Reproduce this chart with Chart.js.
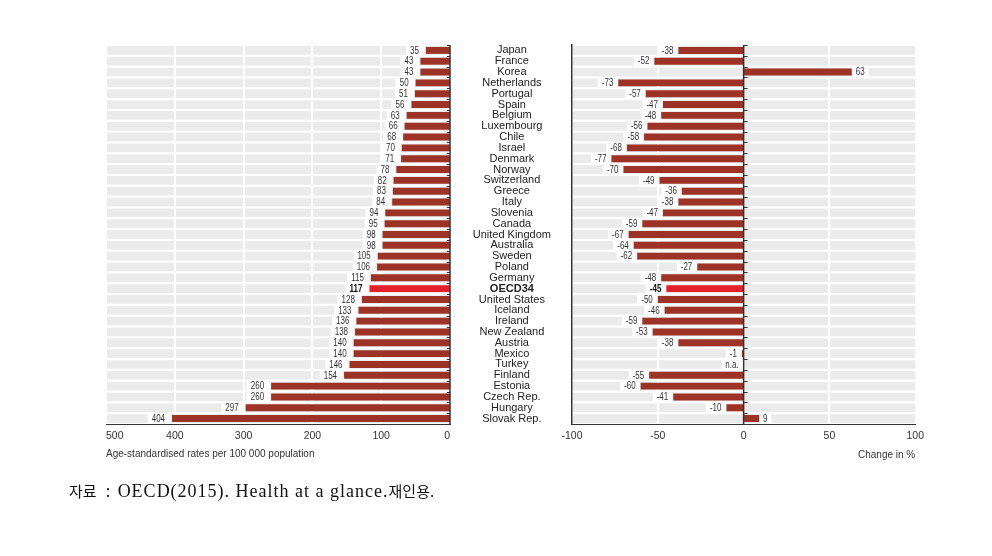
<!DOCTYPE html>
<html>
<head>
<meta charset="utf-8">
<script src="https://cdn.jsdelivr.net/npm/chart.js@4.4.0/dist/chart.umd.min.js"></script>
<style>
  body { margin: 0; background: #fff; }
  #wrap { position: relative; width: 992px; height: 556px; }
  #rateChart { position: absolute; left: 0; top: 0; }
  #changeChart { position: absolute; left: 460px; top: 0; }
  #rateTitle {
    position: absolute; left: 106px; top: 448px;
    font: 10px "Liberation Sans", sans-serif; color: #333; white-space: nowrap;
  }
  #source {
    position: absolute; left: 69px; top: 480px;
    font: 18px "Liberation Serif", serif; letter-spacing: 1px;
    color: #111; white-space: nowrap;
  }
  #source .ko { font: 15px "Noto Sans CJK KR", sans-serif; letter-spacing: 0; }
  #source .sep { margin: 0 6px 0 9px; }
</style>
</head>
<body>
<div id="wrap">
  <canvas id="rateChart" width="460" height="470"></canvas>
  <canvas id="changeChart" width="470" height="470"></canvas>
  <div id="rateTitle">Age-standardised rates per 100 000 population</div>
  <div id="source"><span class="ko">자료</span><span class="sep">:</span>OECD(2015). Health at a glance.<span class="ko">재인용.</span></div>
</div>
<script>
const countries = [
  "Japan", "France", "Korea", "Netherlands", "Portugal", "Spain", "Belgium",
  "Luxembourg", "Chile", "Israel", "Denmark", "Norway", "Switzerland", "Greece",
  "Italy", "Slovenia", "Canada", "United Kingdom", "Australia", "Sweden", "Poland",
  "Germany", "OECD34", "United States", "Iceland", "Ireland", "New Zealand",
  "Austria", "Mexico", "Turkey", "Finland", "Estonia", "Czech Rep.", "Hungary",
  "Slovak Rep."
];
// age-standardised rates per 100 000 population
const rates = [
  35, 43, 43, 50, 51, 56, 63, 66, 68, 70, 71, 78, 82, 83, 84, 94, 95, 98, 98,
  105, 106, 115, 117, 128, 133, 136, 138, 140, 140, 146, 154, 260, 260, 297, 404
];
// change in %, null = n.a.
const changes = [
  -38, -52, 63, -73, -57, -47, -48, -56, -58, -68, -77, -70, -49, -36, -38, -47,
  -59, -67, -64, -62, -27, -48, -45, -50, -46, -59, -53, -38, -1, null, -55, -60,
  -41, -10, 9
];
const rateTicks = { min: 0, max: 500, step: 100 };
const changeTicks = { min: -100, max: 100, step: 50 };
const oecdIndex = countries.indexOf("OECD34");

const BAR = "#9c3326";
const OECD_RED = "#e5202a";
const BAND = "#ebebeb";
const INK = "#333";
const FONT = "'Liberation Sans', Arial, sans-serif";
const NARROW = 0.8; // horizontal squeeze for the value labels

const barColors = countries.map((c, i) => (i === oecdIndex ? OECD_RED : BAR));

// gray row bands, white gridlines, dark zero line and value labels
const rowPlugin = (tickDir, gap) => ({
  id: "rows",
  beforeDatasetsDraw(chart) {
    const { ctx, chartArea: a, scales: { x, y } } = chart;
    const step = y.getPixelForValue(1) - y.getPixelForValue(0);
    const band = step * 0.8;
    ctx.save();
    ctx.fillStyle = BAND;
    countries.forEach((c, i) => {
      const cy = y.getPixelForValue(i);
      ctx.fillRect(a.left + 1, cy - band / 2, a.right - a.left - 1, band);
    });
    ctx.strokeStyle = "#fff";
    ctx.lineWidth = 2;
    x.ticks.forEach((t) => {
      const px = Math.round(x.getPixelForValue(t.value));
      if (t.value === 0 || px <= a.left + 2 || px >= a.right - 2) return;
      ctx.beginPath();
      ctx.moveTo(px, a.top);
      ctx.lineTo(px, a.bottom);
      ctx.stroke();
    });
    ctx.restore();
  },
  afterDatasetsDraw(chart) {
    const { ctx, chartArea: a, scales: { x, y } } = chart;
    const step = y.getPixelForValue(1) - y.getPixelForValue(0);
    const band = step * 0.8;
    const zx = x.getPixelForValue(0);
    ctx.save();
    // zero line with small ticks between rows
    ctx.strokeStyle = INK;
    ctx.lineWidth = 1.5;
    ctx.beginPath();
    ctx.moveTo(zx, a.top);
    ctx.lineTo(zx, a.bottom);
    ctx.stroke();
    ctx.lineWidth = 1;
    for (let i = 0; i <= countries.length; i++) {
      const by = Math.round(y.getPixelForValue(i) - step / 2) + 0.5;
      ctx.beginPath();
      ctx.moveTo(zx, by);
      ctx.lineTo(zx + tickDir, by);
      ctx.stroke();
    }
    // value labels on a white box
    const values = chart.data.datasets[0].data;
    const meta = chart.getDatasetMeta(0);
    ctx.textBaseline = "middle";
    values.forEach((v, i) => {
      const cy = y.getPixelForValue(i);
      const bold = i === oecdIndex;
      ctx.font = (bold ? "bold " : "") + "10px " + FONT;
      let end = zx;
      let left = true;
      let text = "n.a.";
      if (v !== null) {
        const el = meta.data[i];
        end = el.x;
        left = el.x < el.base;
        text = String(v);
      }
      const w = ctx.measureText(text).width * NARROW;
      ctx.fillStyle = "#fff";
      let tx;
      if (left) {
        ctx.fillRect(end - w - gap - 4, cy - band / 2, w + gap + 3, band);
        ctx.textAlign = "right";
        tx = end - gap;
      } else {
        ctx.fillRect(end + 1, cy - band / 2, w + 7, band);
        ctx.textAlign = "left";
        tx = end + 4;
      }
      ctx.fillStyle = bold ? "#111" : INK;
      ctx.save();
      ctx.translate(tx, cy + 0.5);
      ctx.scale(NARROW, 1);
      ctx.fillText(text, 0, 0);
      ctx.restore();
    });
    ctx.restore();
  }
});

const fixHeight = (h) => (scale) => { scale.height = h; };

const baseOptions = () => ({
  indexAxis: "y",
  responsive: false,
  animation: false,
  plugins: { legend: { display: false }, tooltip: { enabled: false } }
});

const xAxis = (t, tickAlign) => ({
  type: "linear",
  min: t.min,
  max: t.max,
  grid: { display: false, drawTicks: false },
  border: { display: true, color: INK, width: 1 },
  ticks: {
    stepSize: t.step,
    padding: 6,
    align: tickAlign,
    color: INK,
    font: { family: FONT, size: 10.5 }
  },
  afterFit: fixHeight(40)
});

const rateX = xAxis(rateTicks, "inner");
rateX.reverse = true;
// reversed axis: flip tick order so the "inner" alignment lands on the right ends
rateX.afterBuildTicks = (scale) => { scale.ticks.reverse(); };

new Chart(document.getElementById("rateChart"), {
  type: "bar",
  data: {
    labels: countries,
    datasets: [{
      data: rates,
      backgroundColor: barColors,
      barPercentage: 0.64,
      categoryPercentage: 1
    }]
  },
  options: Object.assign(baseOptions(), {
    layout: { padding: { left: 106, right: 10, top: 45, bottom: 6 } },
    scales: {
      x: rateX,
      y: { display: false }
    }
  }),
  plugins: [rowPlugin(-3, 7)]
});

const changeX = xAxis(changeTicks, "center");
changeX.title = {
  display: true,
  text: "Change in %",
  align: "end",
  color: INK,
  padding: { top: 0, bottom: 3 },
  font: { family: FONT, size: 10 }
};

new Chart(document.getElementById("changeChart"), {
  type: "bar",
  data: {
    labels: countries,
    datasets: [{
      data: changes,
      backgroundColor: barColors,
      barPercentage: 0.64,
      categoryPercentage: 1
    }]
  },
  options: Object.assign(baseOptions(), {
    layout: { padding: { left: 0, right: 13, top: 45, bottom: 6 } },
    scales: {
      x: changeX,
      y: {
        grid: { display: false, drawTicks: false },
        border: { display: true, color: INK, width: 1.5 },
        ticks: {
          crossAlign: "center",
          padding: 21,
          autoSkip: false,
          color: "#222",
          font: (ctx) => ({
            family: FONT,
            size: 11,
            weight: ctx.index === oecdIndex ? "bold" : "normal"
          })
        },
        afterFit: (scale) => { scale.width = 112; }
      }
    }
  }),
  plugins: [rowPlugin(4, 5)]
});
</script>
</body>
</html>
